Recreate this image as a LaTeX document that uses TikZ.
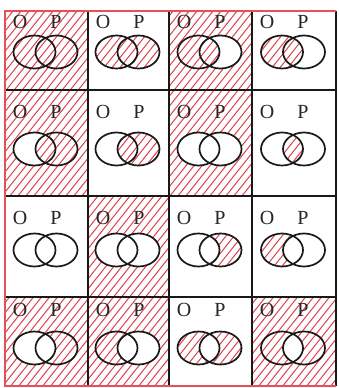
\documentclass[tikz,border=0pt]{standalone}
\usepackage{fontspec}
\setmainfont{Liberation Serif}
\definecolor{hatchred}{RGB}{222,66,78}
\definecolor{framered}{RGB}{228,80,92}
\tikzset{
  hatchline/.style={hatchred, line width=1pt},
  venn/.style={draw=black!90, line width=1.7pt},
  gridline/.style={black!90, line width=1.1pt},
  frameline/.style={framered, line width=1.4pt},
  lbl/.style={font=\fontsize{20}{20}\selectfont, inner sep=0pt, text=black!85}
}
\newcommand\hatchall{%
  \foreach \i in {-330,-322,...,345}{\draw[hatchline] (\i,392) -- ++(315,-396);}}
% #1 col, #2 row, #3 outside, #4 O only, #5 both, #6 P only
\newcommand\venncell[6]{%
  \pgfmathsetmacro\L{{5,88,169,252}[#1]}%
  \pgfmathsetmacro\R{{88,169,252,336}[#1]}%
  \pgfmathsetmacro\T{{11,90,196,297}[#2]}%
  \pgfmathsetmacro\B{{90,196,297,386}[#2]}%
  \pgfmathsetmacro\CY{{52,149,250,348}[#2]}%
  \pgfmathsetmacro\LY{{22,112,218,310}[#2]}%
  \pgfmathsetmacro\OX{(\L+\R)/2-12}%
  \pgfmathsetmacro\PX{(\L+\R)/2+10}%
  \ifnum#3=1
    \begin{scope}\clip (\L,\T) rectangle (\R,\B); \hatchall\end{scope}
    \fill[white] (\OX,\CY) ellipse [x radius=21pt, y radius=16.5pt];
    \fill[white] (\PX,\CY) ellipse [x radius=21pt, y radius=16.5pt];
  \fi
  \ifnum#4=1
    \begin{scope}
      \clip (\OX,\CY) ellipse [x radius=21pt, y radius=16.5pt];
      \begin{scope}[even odd rule]
      \clip (\OX,\CY) ellipse [x radius=21pt, y radius=16.5pt]
            (\PX,\CY) ellipse [x radius=21pt, y radius=16.5pt];
      \hatchall
      \end{scope}
    \end{scope}
  \fi
  \ifnum#5=1
    \begin{scope}
      \clip (\OX,\CY) ellipse [x radius=21pt, y radius=16.5pt];
      \clip (\PX,\CY) ellipse [x radius=21pt, y radius=16.5pt];
      \hatchall
    \end{scope}
  \fi
  \ifnum#6=1
    \begin{scope}
      \clip (\PX,\CY) ellipse [x radius=21pt, y radius=16.5pt];
      \begin{scope}[even odd rule]
      \clip (\OX,\CY) ellipse [x radius=21pt, y radius=16.5pt]
            (\PX,\CY) ellipse [x radius=21pt, y radius=16.5pt];
      \hatchall
      \end{scope}
    \end{scope}
  \fi
  \draw[venn] (\OX,\CY) ellipse [x radius=21pt, y radius=16.5pt];
  \draw[venn] (\PX,\CY) ellipse [x radius=21pt, y radius=16.5pt];
  \node[lbl] (o-#1-#2) at (\L+15,\LY) {O};
  \node[lbl] (p-#1-#2) at (\L+51,\LY) {P};
}
\begin{document}
\begin{tikzpicture}[x=1pt,y=-1pt]
\useasboundingbox (0,0) rectangle (339,388);
\fill[white] (0,0) rectangle (339,388);
% row 0
\venncell{0}{0}{1}{1}{1}{1}
\venncell{1}{0}{0}{1}{1}{1}
\venncell{2}{0}{1}{1}{1}{0}
\venncell{3}{0}{0}{1}{1}{0}
% row 1
\venncell{0}{1}{1}{0}{1}{1}
\venncell{1}{1}{0}{0}{1}{1}
\venncell{2}{1}{1}{0}{0}{0}
\venncell{3}{1}{0}{0}{1}{0}
% row 2
\venncell{0}{2}{0}{0}{0}{0}
\venncell{1}{2}{1}{0}{0}{0}
\venncell{2}{2}{0}{0}{0}{1}
\venncell{3}{2}{0}{1}{0}{0}
% row 3
\venncell{0}{3}{1}{0}{0}{1}
\venncell{1}{3}{1}{1}{0}{0}
\venncell{2}{3}{0}{1}{0}{1}
\venncell{3}{3}{1}{1}{0}{1}
% grid
\foreach \x in {88,169,252}{\draw[gridline] (\x,11) -- (\x,386);}
\foreach \y in {90,196,297}{\draw[gridline] (5,\y) -- (336,\y);}
\draw[gridline] (336,11) -- (336,386);
\draw[frameline] (336,11) -- (5,11) -- (5,386) -- (336,386);
\end{tikzpicture}
\end{document}
